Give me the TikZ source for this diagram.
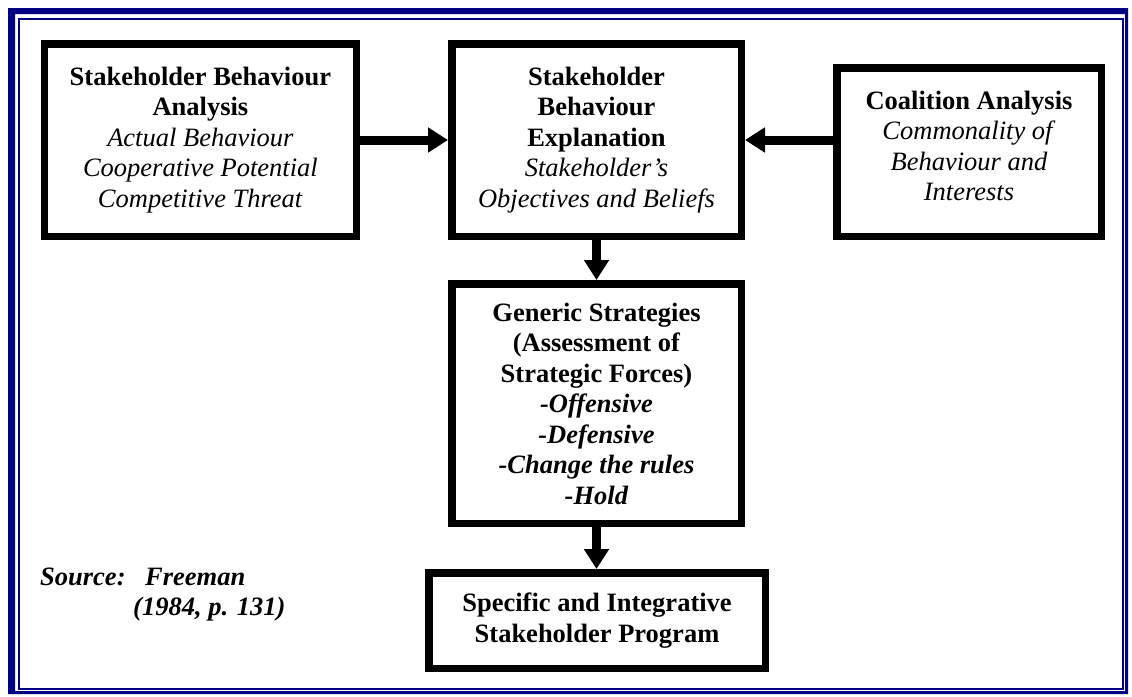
\documentclass[tikz,border=0pt]{standalone}
\usepackage{fontspec}
\setmainfont{Liberation Serif}
\usetikzlibrary{arrows.meta}
\definecolor{navy}{RGB}{0,0,128}
\begin{document}
\begin{tikzpicture}[x=1pt,y=-1pt,
  box/.style={draw=black, line width=7.5pt, align=center, inner sep=0pt,
    font=\fontsize{26.5}{30.5}\selectfont, fill=white},
  flow/.style={line width=9pt, -{Triangle[width=24pt,length=20pt]}},
  src/.style={anchor=base west, inner sep=0pt,
    font=\fontsize{26.5}{30.5}\selectfont\bfseries\itshape}]
\useasboundingbox (0,0) rectangle (1132,696);
\fill[navy, even odd rule] (8,8) rectangle (1128,694) (15,14) rectangle (1125,691);
\draw[navy, line width=1.5pt] (19,19) rectangle (1123,689);

\node[box, minimum width=312pt, minimum height=192.5pt] (b1) at (200.4,140)
  {\textbf{Stakeholder Behaviour}\\\textbf{Analysis}\\\textit{Actual Behaviour}\\
   \textit{Cooperative Potential}\\\textit{Competitive Threat}};
\node[box, minimum width=289.5pt, minimum height=192.5pt] (b2) at (596.5,140)
  {\textbf{Stakeholder}\\\textbf{Behaviour}\\\textbf{Explanation}\\
   \textit{Stakeholder’s}\\\textit{Objectives and Beliefs}};
\node[box, minimum width=264.5pt, minimum height=168.5pt] (b3) at (969,152)
  {\textbf{Coalition Analysis}\\\textit{Commonality of}\\\textit{Behaviour and}\\
   \textit{Interests}\rule[-12pt]{0pt}{0pt}};
\node[box, minimum width=289.5pt, minimum height=239.5pt] (b4) at (596.5,403.5)
  {\textbf{Generic Strategies}\\\textbf{(Assessment of}\\\textbf{Strategic Forces)}\\
   \textbf{\textit{-Offensive}}\\\textbf{\textit{-Defensive}}\\
   \textbf{\textit{-Change the rules}}\\\textbf{\textit{-Hold}}};
\node[box, minimum width=336.5pt, minimum height=95.5pt] (b5) at (597,620.5)
  {\textbf{Specific and Integrative}\\\textbf{Stakeholder Program}};

\draw[flow] (b1.east) -- (b2.west);
\draw[flow] (b3.west |- b2.center) -- (b2.east);
\draw[flow] (b2.south) -- (b4.north);
\draw[flow] (b4.south) -- (b4.south |- b5.north);

\node[src] (s1) at (40,585) {Source:};
\node[src] (s2) at (145,585) {Freeman};
\node[src] (s3) at (133,615) {(1984, p. 131)};
\end{tikzpicture}
\end{document}
